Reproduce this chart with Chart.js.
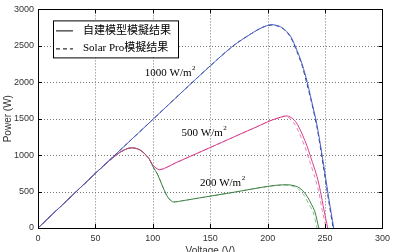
<!DOCTYPE html>
<html>
<head>
<meta charset="utf-8">
<script src="https://cdn.jsdelivr.net/npm/chart.js@4"></script>
<style>
  html, body { margin: 0; padding: 0; background: #fff; }
  #box { width: 395px; height: 252px; }
</style>
</head>
<body>
<div id="box"><canvas id="pvChart"></canvas></div>
<script>
// tick values
const xTicks = [0, 50, 100, 150, 200, 250, 300]
const yTicks = [0, 500, 1000, 1500, 2000, 2500, 3000]

// 1000 W/m2
const v1000 = [0, 25, 50, 75, 100, 125, 150, 170, 185, 195, 203, 210, 215, 220, 226, 230, 234.5, 238, 243, 249, 253, 257.5]
const p1000 = [0, 375, 750, 1120, 1490, 1860, 2225, 2500, 2660, 2750, 2790, 2770, 2720, 2630, 2420, 2250, 2000, 1760, 1410, 840, 430, 0]
const v1000sp = [0, 25, 50, 75, 100, 125, 150, 170, 185, 195, 203, 210, 215, 220, 226, 230, 234, 238, 243, 249, 253, 257]
const p1000sp = [0, 375, 750, 1120, 1490, 1860, 2225, 2500, 2660, 2750, 2785, 2765, 2715, 2620, 2400, 2230, 1990, 1740, 1380, 800, 390, 0]

// 500 W/m2
const v500 = [0, 25, 50, 60, 66, 72, 78, 82, 87, 91, 96.5, 100, 106, 120, 140, 160, 174, 190, 202, 212, 217, 222, 226, 230, 234.5, 239, 243, 246, 249, 252.3]
const p500 = [0, 375, 750, 895, 975, 1045, 1090, 1100, 1085, 1046, 956, 865, 800, 895, 1035, 1175, 1274, 1385, 1470, 1525, 1538, 1500, 1420, 1290, 1115, 900, 705, 500, 250, 0]
const v500sp = [0, 25, 50, 60, 66, 72, 78, 82, 87, 91, 96.5, 100, 106, 120, 140, 160, 174, 190, 202, 212, 216, 220, 224, 228, 232.5, 237, 241, 244.5, 247.5, 251]
const p500sp = [0, 375, 750, 895, 975, 1045, 1090, 1100, 1085, 1046, 956, 865, 800, 895, 1035, 1175, 1274, 1385, 1470, 1520, 1530, 1495, 1415, 1285, 1110, 895, 700, 495, 245, 0]

// 200 W/m2
const v200 = [0, 25, 50, 60, 66, 72, 78, 82, 87, 91, 96.5, 100, 104, 108, 112, 115, 118, 125, 140, 174, 190, 203, 212, 220, 226, 230, 234.5, 238, 241, 244.5]
const p200 = [0, 375, 750, 895, 975, 1045, 1090, 1100, 1085, 1046, 956, 845, 740, 590, 450, 385, 358, 372, 411, 500, 545, 578, 592, 590, 565, 520, 432, 330, 230, 0]
const v200sp = [0, 25, 50, 60, 66, 72, 78, 82, 87, 91, 96.5, 100, 104, 108, 112, 115, 118, 125, 140, 174, 190, 203, 212, 219, 224, 228, 232.5, 236, 239.5, 243]
const p200sp = [0, 375, 750, 895, 975, 1045, 1090, 1100, 1085, 1046, 956, 845, 740, 590, 450, 385, 358, 372, 411, 500, 545, 575, 588, 585, 560, 515, 428, 325, 225, 0]

const legendLabels = ['自建模型模擬结果', 'Solar Pro模擬结果']
const curveLabels = ['1000 W/m', '500 W/m', '200 W/m']
const labelPos = [[93, 2130], [125, 1300], [141, 610]]

function pts(xs, ys) {
    return xs.map((x, i) => ({ x: x, y: ys[i] }))
}

function solid(xs, ys, color) {
    return { data: pts(xs, ys), borderColor: color, borderWidth: 1, pointRadius: 0, tension: 0.3, fill: false }
}
function dashed(xs, ys, color) {
    return { data: pts(xs, ys), borderColor: color, borderWidth: 1, borderDash: [4, 3], pointRadius: 0, tension: 0.3, fill: false }
}

const serif = '"Liberation Serif", "Times New Roman", "Noto Sans CJK SC", serif'
const sans = '"Liberation Sans", Arial, sans-serif'

const framePlugin = {
    id: 'frame',
    beforeDatasetsDraw(chart) {
        // dotted grid
        const ctx = chart.ctx
        const a = chart.chartArea
        const xs = chart.scales.x, ys = chart.scales.y
        ctx.save()
        ctx.strokeStyle = '#777'
        ctx.lineWidth = 1
        ctx.setLineDash([1, 2])
        ctx.beginPath()
        xTicks.slice(1, -1).forEach(t => {
            const px = Math.round(xs.getPixelForValue(t)) + 0.5
            ctx.moveTo(px, a.top); ctx.lineTo(px, a.bottom)
        })
        yTicks.slice(1, -1).forEach(t => {
            const py = Math.round(ys.getPixelForValue(t)) + 0.5
            ctx.moveTo(a.left, py); ctx.lineTo(a.right, py)
        })
        ctx.stroke()
        ctx.restore()
    },
    afterDraw(chart) {
        const ctx = chart.ctx
        const a = chart.chartArea
        const xs = chart.scales.x, ys = chart.scales.y
        ctx.save()
        ctx.strokeStyle = '#000'
        ctx.lineWidth = 1
        ctx.strokeRect(Math.round(a.left) + 0.5, Math.round(a.top) + 0.5, Math.round(a.right - a.left), Math.round(a.bottom - a.top))
        // inward ticks, matlab style
        ctx.beginPath()
        xTicks.forEach(t => {
            const px = Math.round(xs.getPixelForValue(t)) + 0.5
            ctx.moveTo(px, a.bottom); ctx.lineTo(px, a.bottom - 4)
            ctx.moveTo(px, a.top); ctx.lineTo(px, a.top + 4)
        })
        yTicks.forEach(t => {
            const py = Math.round(ys.getPixelForValue(t)) + 0.5
            ctx.moveTo(a.left, py); ctx.lineTo(a.left + 4, py)
            ctx.moveTo(a.right, py); ctx.lineTo(a.right - 4, py)
        })
        ctx.stroke()

        // curve labels
        ctx.fillStyle = '#000'
        ctx.textBaseline = 'middle'
        curveLabels.forEach((txt, i) => {
            const px = xs.getPixelForValue(labelPos[i][0])
            const py = ys.getPixelForValue(labelPos[i][1])
            ctx.font = '11px ' + serif
            ctx.fillText(txt, px, py)
            const w = ctx.measureText(txt).width
            ctx.font = '7px ' + serif
            ctx.fillText('2', px + w + 0.5, py - 5)
        })

        // legend box
        const lx = a.left + 15, ly = a.top + 11, lw = 125, lh = 37
        ctx.fillStyle = '#fff'
        ctx.fillRect(lx, ly, lw, lh)
        ctx.strokeRect(lx + 0.5, ly + 0.5, lw, lh)
        ctx.beginPath()
        ctx.moveTo(lx + 3, ly + 10.5); ctx.lineTo(lx + 20, ly + 10.5)
        ctx.stroke()
        ctx.setLineDash([4, 3])
        ctx.beginPath()
        ctx.moveTo(lx + 3, ly + 28.5); ctx.lineTo(lx + 20, ly + 28.5)
        ctx.stroke()
        ctx.setLineDash([])
        ctx.fillStyle = '#000'
        ctx.font = '11px ' + serif
        ctx.fillText(legendLabels[0], lx + 30, ly + 11)
        ctx.fillText(legendLabels[1], lx + 30, ly + 28)
        ctx.restore()
    }
}

const ctx = document.getElementById('pvChart')

var myChart = new Chart(ctx, {
    type: 'line',
    data: {
        datasets: [
            solid(v1000, p1000, '#4a63c9'),
            solid(v500, p500, '#d8408a'),
            solid(v200, p200, '#3f8048'),
            dashed(v1000sp, p1000sp, '#24307a'),
            dashed(v500sp, p500sp, '#e882b4'),
            dashed(v200sp, p200sp, '#8cc48c')
        ]
    },
    options: {
        responsive: true,
        maintainAspectRatio: false,
        animation: false,
        layout: { padding: { top: 9, right: 7, left: 0, bottom: 0 } },
        plugins: { legend: { display: false }, tooltip: { enabled: false } },
        scales: {
            x: {
                type: 'linear',
                min: 0, max: 300,
                afterBuildTicks: s => { s.ticks = xTicks.map(v => ({ value: v })) },
                afterFit: s => { s.height = 24 },
                grid: { display: false, drawTicks: false },
                border: { display: false },
                ticks: { color: '#333', font: { family: sans, size: 9 }, padding: 5, maxRotation: 0, callback: v => String(v) },
                title: { display: true, text: 'Voltage (V)', color: '#333', font: { family: sans, size: 10 }, padding: { top: 0, bottom: -5 } }
            },
            y: {
                min: 0, max: 3000,
                afterBuildTicks: s => { s.ticks = yTicks.map(v => ({ value: v })) },
                afterFit: s => { s.width = 38 },
                grid: { display: false, drawTicks: false },
                border: { display: false },
                ticks: { color: '#333', font: { family: sans, size: 9 }, padding: 4, callback: v => String(v) },
                title: { display: true, text: 'Power (W)', color: '#333', font: { family: sans, size: 10 }, padding: { top: 2, bottom: 0 } }
            }
        }
    },
    plugins: [framePlugin]
});
</script>
</body>
</html>
